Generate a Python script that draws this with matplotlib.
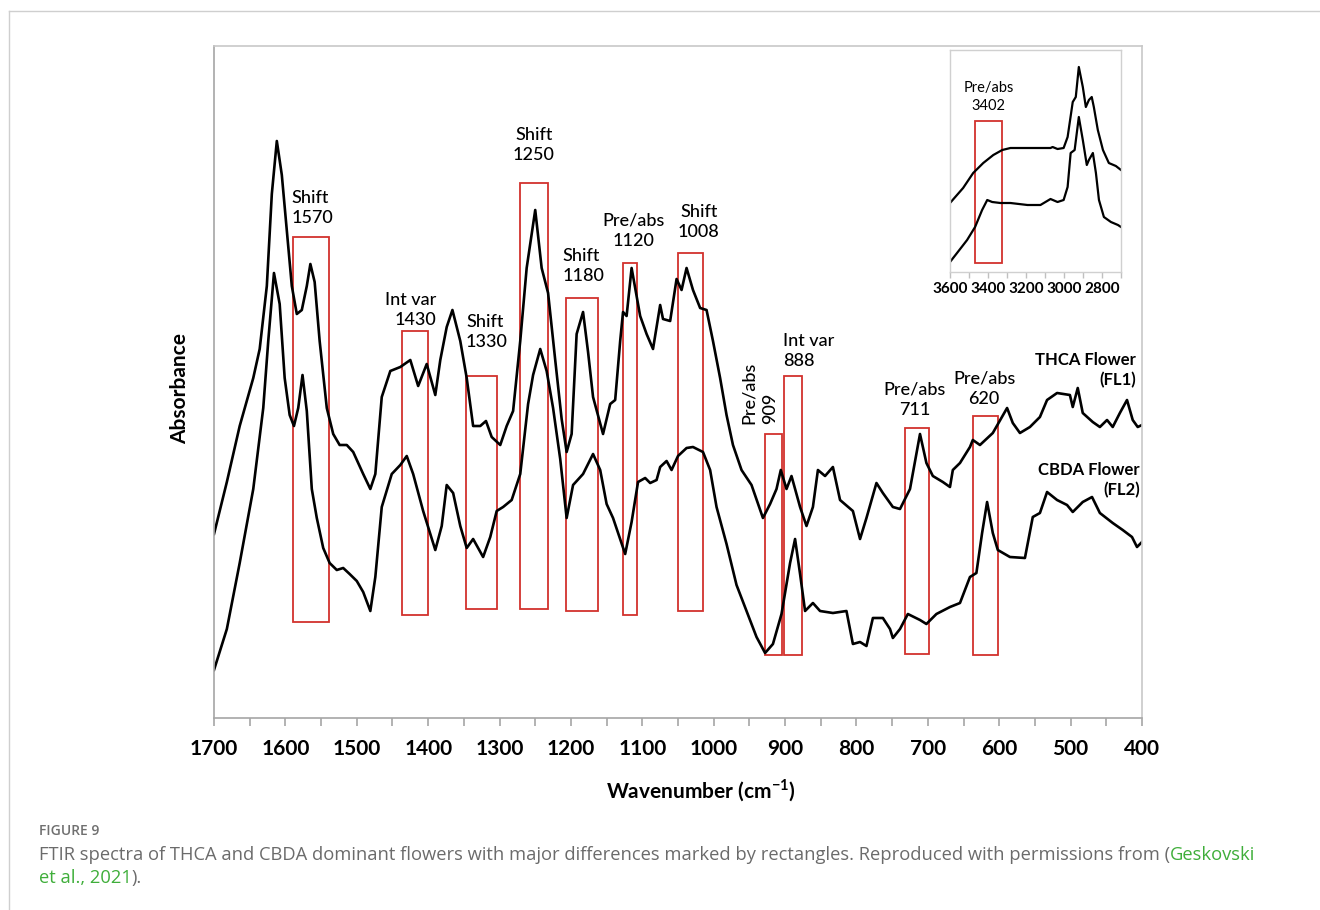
import matplotlib
matplotlib.use('Agg')
import matplotlib.pyplot as plt
from matplotlib.patches import Rectangle
from matplotlib.lines import Line2D
from matplotlib.ticker import MultipleLocator

plt.rcParams['font.family'] = ['Lato', 'DejaVu Sans']
plt.rcParams['mathtext.fontset'] = 'custom'
plt.rcParams['mathtext.rm'] = 'Lato'
plt.rcParams['mathtext.bf'] = 'Lato:bold'

# THCA flower (FL1), upper trace
thca_wn = [1700, 1682, 1664, 1645, 1636, 1626, 1619, 1612, 1605, 1598, 1591, 1584, 1577, 1570, 1565,
           1559, 1552, 1542, 1533, 1524, 1514, 1505, 1491, 1481, 1474, 1465, 1453, 1439, 1425, 1414,
           1402, 1390, 1383, 1374, 1366, 1355, 1346, 1337, 1327, 1319, 1311, 1299, 1290, 1281, 1271,
           1262, 1250, 1241, 1232, 1222, 1213, 1206, 1199, 1192, 1183, 1176, 1169, 1155, 1145, 1138,
           1131, 1127, 1122, 1115, 1103, 1094, 1085, 1075, 1071, 1061, 1052, 1045, 1038, 1029, 1019,
           1010, 1001, 991, 982, 973, 961, 947, 931, 921, 912, 906, 898, 891, 879, 870,
           861, 854, 844, 833, 823, 805, 795, 786, 772, 763, 749, 739, 725, 711, 702,
           693, 679, 669, 665, 655, 641, 637, 627, 609, 589, 581, 571, 557, 543, 533,
           519, 501, 497, 490, 483, 469, 459, 449, 441, 431, 421, 413, 406, 400]
thca_abs = [1.84, 2.36, 2.92, 3.40, 3.69, 4.32, 5.24, 5.77, 5.43, 4.87, 4.32, 4.04, 4.08, 4.32, 4.54,
            4.36, 3.77, 3.10, 2.84, 2.73, 2.73, 2.66, 2.44, 2.29, 2.44, 3.21, 3.47, 3.51, 3.58, 3.32,
            3.54, 3.23, 3.58, 3.91, 4.08, 3.77, 3.40, 2.92, 2.92, 2.97, 2.81, 2.73, 2.92, 3.07, 3.77,
            4.50, 5.08, 4.50, 4.25, 3.58, 2.99, 2.66, 2.84, 3.84, 4.06, 3.66, 3.21, 2.84, 3.14, 3.18,
            3.77, 4.06, 4.02, 4.50, 4.02, 3.84, 3.69, 4.13, 3.99, 3.97, 4.39, 4.28, 4.50, 4.28, 4.10,
            4.08, 3.77, 3.40, 3.03, 2.73, 2.48, 2.33, 2.00, 2.14, 2.29, 2.48, 2.29, 2.42, 2.11, 1.92,
            2.11, 2.48, 2.42, 2.51, 2.18, 2.07, 1.79, 2.00, 2.35, 2.25, 2.11, 2.09, 2.29, 2.84, 2.55,
            2.42, 2.36, 2.31, 2.48, 2.55, 2.71, 2.78, 2.73, 2.85, 3.10, 2.95, 2.85, 2.91, 3.01, 3.18,
            3.25, 3.23, 3.11, 3.30, 3.05, 2.96, 2.91, 2.98, 2.91, 3.05, 3.18, 2.98, 2.91, 2.93]

# CBDA flower (FL2), lower trace
cbda_wn = [1700, 1682, 1664, 1645, 1631, 1624, 1616, 1608, 1601, 1594, 1588, 1582, 1576, 1570, 1563,
           1556, 1547, 1538, 1528, 1519, 1510, 1500, 1491, 1481, 1474, 1465, 1451, 1439, 1430, 1421,
           1407, 1390, 1381, 1374, 1365, 1355, 1346, 1337, 1323, 1313, 1304, 1295, 1283, 1271, 1260,
           1253, 1243, 1234, 1225, 1215, 1206, 1197, 1183, 1169, 1159, 1150, 1141, 1124, 1115, 1106,
           1096, 1089, 1080, 1075, 1066, 1059, 1050, 1038, 1029, 1015, 1005, 996, 982, 968, 954,
           940, 928, 917, 905, 893, 886, 879, 872, 861, 851, 833, 814, 805, 795, 786,
           777, 763, 753, 749, 739, 728, 711, 702, 688, 669, 655, 641, 632, 624, 617,
           609, 602, 585, 564, 553, 543, 533, 519, 505, 497, 483, 470, 459, 441, 427,
           414, 407, 400]
cbda_abs = [0.48, 0.89, 1.55, 2.29, 3.10, 3.77, 4.45, 4.14, 3.40, 3.03, 2.92, 3.10, 3.43, 3.07, 2.29,
            2.00, 1.70, 1.55, 1.48, 1.50, 1.44, 1.37, 1.26, 1.07, 1.41, 2.11, 2.44, 2.53, 2.62, 2.44,
            2.07, 1.68, 1.92, 2.33, 2.25, 1.92, 1.70, 1.79, 1.61, 1.81, 2.07, 2.11, 2.18, 2.44, 3.14,
            3.43, 3.69, 3.47, 3.10, 2.59, 2.00, 2.33, 2.44, 2.64, 2.48, 2.14, 2.00, 1.64, 1.96, 2.36,
            2.40, 2.35, 2.38, 2.51, 2.57, 2.48, 2.62, 2.70, 2.71, 2.66, 2.48, 2.11, 1.74, 1.33, 1.07,
            0.81, 0.65, 0.74, 1.04, 1.55, 1.79, 1.44, 1.07, 1.15, 1.07, 1.05, 1.07, 0.74, 0.76, 0.72,
            1.00, 1.00, 0.89, 0.80, 0.89, 1.04, 0.98, 0.94, 1.04, 1.11, 1.15, 1.41, 1.45, 1.85, 2.16,
            1.85, 1.68, 1.61, 1.60, 2.01, 2.05, 2.26, 2.18, 2.13, 2.06, 2.16, 2.21, 2.05, 1.95, 1.88,
            1.81, 1.71, 1.76]

# inset, 3600-2700 cm-1
ins_thca_wn = [3600, 3531, 3478, 3425, 3372, 3325, 3282, 3214, 3139, 3071, 3060, 3034, 3002, 2981,
               2954, 2938, 2922, 2901, 2885, 2869, 2854, 2843, 2822, 2795, 2764, 2727, 2700]
ins_thca_abs = [0.69, 0.84, 0.99, 1.09, 1.17, 1.22, 1.24, 1.24, 1.24, 1.24, 1.25, 1.23, 1.24, 1.35,
                1.70, 1.75, 2.05, 1.85, 1.65, 1.72, 1.75, 1.65, 1.42, 1.22, 1.09, 1.06, 1.02]
ins_cbda_wn = [3600, 3563, 3510, 3468, 3431, 3404, 3378, 3335, 3282, 3192, 3124, 3071, 3034, 3002,
               2981, 2965, 2944, 2922, 2901, 2880, 2869, 2848, 2832, 2816, 2790, 2753, 2716, 2700]
ins_cbda_abs = [0.10, 0.19, 0.32, 0.45, 0.62, 0.72, 0.70, 0.69, 0.69, 0.67, 0.67, 0.73, 0.70, 0.72,
                0.85, 1.19, 1.22, 1.55, 1.32, 1.07, 1.12, 1.19, 0.99, 0.72, 0.55, 0.50, 0.47, 0.45]

# marked regions: wavenumber span and absorbance span
box_hi = [1589, 1437, 1347, 1271, 1207, 1127, 1050, 928, 901, 732, 637]
box_lo = [1539, 1400, 1304, 1232, 1162, 1107, 1015, 904, 876, 698, 602]
box_bottom = [0.96, 1.03, 1.09, 1.09, 1.07, 1.03, 1.07, 0.63, 0.63, 0.64, 0.63]
box_top = [4.81, 3.87, 3.42, 5.35, 4.20, 4.55, 4.65, 2.84, 3.42, 2.90, 3.02]

# annotation text: (label, x, y, ha)
notes = [('Shift\n1570', 1591, 5.10, 'left'),
         ('Int var\n1430', 1388, 4.08, 'right'),
         ('Shift\n1330', 1347, 3.86, 'left'),
         ('Shift\n1250', 1252, 5.73, 'center'),
         ('Shift\n1180', 1212, 4.52, 'left'),
         ('Pre/abs\n1120', 1113, 4.87, 'center'),
         ('Shift\n1008', 1021, 4.96, 'center'),
         ('Int var\n888', 903, 3.67, 'left'),
         ('Pre/abs\n711', 718, 3.18, 'center'),
         ('Pre/abs\n620', 621, 3.29, 'center')]

RED = '#d2322d'
GRID = '#a6a6a6'

fig = plt.figure(figsize=(13.2, 9.1), dpi=100)
ax = fig.add_axes([214 / 1320, 1 - 718 / 910, 928 / 1320, 672 / 910])

ax.plot(thca_wn, thca_abs, color='black', lw=1.9, solid_joinstyle='round')
ax.plot(cbda_wn, cbda_abs, color='black', lw=1.9, solid_joinstyle='round')

for lo, hi, b, t in zip(box_lo, box_hi, box_bottom, box_top):
    ax.add_patch(Rectangle((lo, b), hi - lo, t - b, fill=False, edgecolor=RED, lw=1.3))

for txt, x, y, ha in notes:
    ax.text(x, y, txt, ha=ha, va='center', multialignment=ha, fontsize=13,
            fontweight='medium', linespacing=1.35)
ax.text(936, 2.94, 'Pre/abs\n909', rotation=90, ha='center', va='bottom', multialignment='left',
        fontsize=13, fontweight='medium', linespacing=1.35)

ax.text(408, 3.48, 'THCA Flower\n(FL1)', ha='right', va='center', multialignment='right',
        fontsize=12, fontweight='bold', linespacing=1.35)
ax.text(403, 2.38, 'CBDA Flower\n(FL2)', ha='right', va='center', multialignment='right',
        fontsize=12, fontweight='bold', linespacing=1.35)

ax.set_xlim(1700, 400)
ax.set_ylim(0, 6.72)
ax.xaxis.set_major_locator(MultipleLocator(100))
ax.xaxis.set_minor_locator(MultipleLocator(50))
ax.tick_params(axis='x', which='both', direction='out', length=6, width=1.2, color=GRID)
ax.tick_params(axis='x', which='major', pad=9, labelsize=15)
ax.set_yticks([])
for lbl in ax.get_xticklabels():
    lbl.set_fontweight('bold')
for s in ax.spines.values():
    s.set_color(GRID)
    s.set_linewidth(1.2)
ax.spines['top'].set_color('#c8c8c8')
ax.spines['right'].set_color('#c8c8c8')

ax.set_xlabel(r'Wavenumber (cm$^{\mathbf{-1}}$)', fontsize=15, fontweight='bold')
ax.xaxis.set_label_coords(0.525, -0.088)
ax.set_ylabel('Absorbance', fontsize=15, fontweight='bold')
ax.yaxis.set_label_coords(-0.026, 0.49)

# inset with the 3600-2700 region
axi = fig.add_axes([950 / 1320, 1 - 272 / 910, 171 / 1320, 222 / 910])
axi.plot(ins_thca_wn, ins_thca_abs, color='black', lw=1.6)
axi.plot(ins_cbda_wn, ins_cbda_abs, color='black', lw=1.6)
axi.add_patch(Rectangle((3326, 0.09), 3468 - 3326, 1.51 - 0.09, fill=False, edgecolor=RED, lw=1.3))
axi.text(3397, 1.75, 'Pre/abs\n3402', ha='center', va='center', fontsize=10.5, linespacing=1.3)
axi.set_xlim(3600, 2700)
axi.set_ylim(0, 2.22)
axi.xaxis.set_major_locator(MultipleLocator(200))
axi.xaxis.set_minor_locator(MultipleLocator(100))
axi.tick_params(axis='x', which='both', direction='out', length=4, width=1, color='#c0c0c0')
axi.tick_params(axis='x', which='major', pad=3, labelsize=11)
axi.set_yticks([])
for lbl in axi.get_xticklabels():
    lbl.set_fontweight('bold')
for s in axi.spines.values():
    s.set_color('#d0d0d0')
    s.set_linewidth(1)

# page frame
fig.add_artist(Line2D([9 / 1320, 9 / 1320], [0, 1 - 11 / 910], color='#cfcfcf', lw=1,
                      transform=fig.transFigure))
fig.add_artist(Line2D([9 / 1320, 1], [1 - 11 / 910, 1 - 11 / 910], color='#cfcfcf', lw=1,
                      transform=fig.transFigure))

# caption
CAP = '#6b6b6b'
GREEN = '#3fae3a'
CX = 39 / 1320
fig.text(CX, 1 - 831 / 910, 'FIGURE 9', fontsize=10, color='#707070',
         family='Open Sans', fontweight='semibold', va='center')
t1 = fig.text(CX, 1 - 855 / 910,
              'FTIR spectra of THCA and CBDA dominant flowers with major differences marked by '
              'rectangles. Reproduced with permissions from (',
              fontsize=13.2, color=CAP, family='Open Sans', va='center')
t2 = fig.text(CX, 1 - 878 / 910, 'et al., 2021', fontsize=13.2, color=GREEN,
              family='Open Sans', va='center')
fig.canvas.draw()
r = fig.canvas.get_renderer()
x1 = t1.get_window_extent(r).x1 / fig.bbox.width
fig.text(x1, 1 - 855 / 910, 'Geskovski', fontsize=13.2, color=GREEN, family='Open Sans', va='center')
x2 = t2.get_window_extent(r).x1 / fig.bbox.width
fig.text(x2, 1 - 878 / 910, ').', fontsize=13.2, color=CAP, family='Open Sans', va='center')

fig.savefig('out.png', dpi=100)
